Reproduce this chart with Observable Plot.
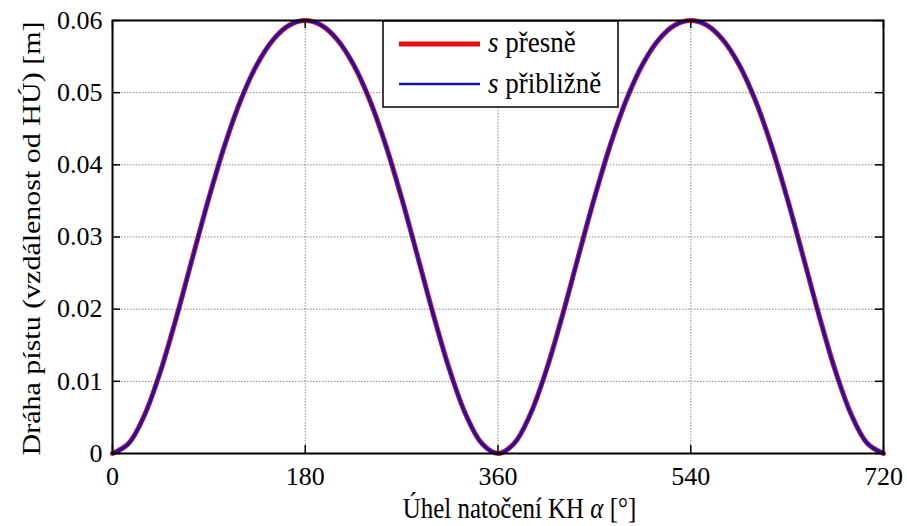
<!DOCTYPE html>
<html><head><meta charset="utf-8">
<script src="https://cdn.jsdelivr.net/npm/d3@7"></script>
<script src="https://cdn.jsdelivr.net/npm/@observablehq/plot@0.6"></script>
<style>html,body{margin:0;padding:0;background:#fff} svg{display:block}</style>
</head><body><div id="chart"></div>
<script>
const angles = [0,15,30,45,60,75,90,105,120,135,150,165,180,195,210,225,240,255,270,285,300,315,330,345,360,
  375,390,405,420,435,450,465,480,495,510,525,540,555,570,585,600,615,630,645,660,675,690,705,720];
const sExact = [0,0.00138,0.00537,0.01149,0.01905,0.02728,0.0354,0.0428,0.04905,0.05391,0.05733,0.05934,0.06,
  0.05934,0.05733,0.05391,0.04905,0.0428,0.0354,0.02728,0.01905,0.01149,0.00537,0.00138,0,
  0.00138,0.00537,0.01149,0.01905,0.02728,0.0354,0.0428,0.04905,0.05391,0.05733,0.05934,0.06,
  0.05934,0.05733,0.05391,0.04905,0.0428,0.0354,0.02728,0.01905,0.01149,0.00537,0.00138,0];
const sApprox = [0,0.00137,0.00535,0.01146,0.01902,0.02726,0.0354,0.04282,0.04908,0.05394,0.05735,0.05935,0.06,
  0.05935,0.05735,0.05394,0.04908,0.04282,0.0354,0.02726,0.01902,0.01146,0.00535,0.00137,0,
  0.00137,0.00535,0.01146,0.01902,0.02726,0.0354,0.04282,0.04908,0.05394,0.05735,0.05935,0.06,
  0.05935,0.05735,0.05394,0.04908,0.04282,0.0354,0.02726,0.01902,0.01146,0.00535,0.00137,0];
const xTicks = [0,180,360,540,720];
const xTickLabels = ["0","180","360","540","720"];
const yTicks = [0,0.01,0.02,0.03,0.04,0.05,0.06];
const yTickLabels = ["0","0.01","0.02","0.03","0.04","0.05","0.06"];
const seriesNames = ["přesně","přibližně"];
const seriesColors = ["#e60f14","#1414b4"];
const xLabel = "Úhel natočení KH α [°]";
const yLabel = "Dráha pístu (vzdálenost od HÚ) [m]";

const W=907,H=526, mL=112, mR=24, mT=20, mB=73;
const pw = W-mL-mR, ph = H-mT-mB;
const tk = 8;
const rows = angles.map((a,i)=>({a, exact:sExact[i], approx:sApprox[i]}));
const font = "'Liberation Serif', serif";
const grid = {stroke:"#8a8a8a", strokeOpacity:1, strokeWidth:1, strokeDasharray:"1.5,1.5"};

const chart = Plot.plot({
  width:W, height:H, marginLeft:mL, marginRight:mR, marginTop:mT, marginBottom:mB,
  style:{fontFamily:font, fontSize:"26px", color:"#000", background:"#fff"},
  x:{domain:[0,720]}, y:{domain:[0,0.06]},
  marks:[
    Plot.gridX(xTicks, grid),
    Plot.gridY(yTicks, grid),
    Plot.line(rows,{x:"a", y:"exact", stroke:seriesColors[0], strokeWidth:5, curve:"catmull-rom"}),
    Plot.line(rows,{x:"a", y:"approx", stroke:seriesColors[1], strokeWidth:3, curve:"catmull-rom"}),
    Plot.ruleX(xTicks,{x:d=>d, insetTop:ph-tk, stroke:"#000", strokeWidth:1.5}),
    Plot.ruleX(xTicks,{x:d=>d, insetBottom:ph-tk, stroke:"#000", strokeWidth:1.5}),
    Plot.ruleY(yTicks,{y:d=>d, insetRight:pw-tk, stroke:"#000", strokeWidth:1.5}),
    Plot.ruleY(yTicks,{y:d=>d, insetLeft:pw-tk, stroke:"#000", strokeWidth:1.5}),
    Plot.frame({stroke:"#000", strokeWidth:2}),
    Plot.axisX(xTicks,{tickSize:0, tickPadding:13, tickFormat:(d,i)=>xTickLabels[i], label:null, fontSize:26}),
    Plot.axisY(yTicks,{tickSize:0, tickPadding:10, tickFormat:(d,i)=>yTickLabels[i], label:null, fontSize:26})
  ]
});
document.getElementById("chart").appendChild(chart);

const svg = d3.select(chart);
const xs = chart.scale("x"), ys = chart.scale("y");

// x axis label with italic alpha
const xl = svg.append("text")
  .attr("transform", `translate(${xs.apply(360)+22},518) scale(0.86,1)`)
  .attr("text-anchor","middle").attr("font-size",29).attr("fill","#000");
const parts = xLabel.split("α");
xl.append("tspan").text(parts[0]);
xl.append("tspan").attr("font-style","italic").text("α");
xl.append("tspan").text(parts[1]);

// y axis label
svg.append("text")
  .attr("transform", `translate(40,${(ys.apply(0)+ys.apply(0.06))/2+2}) rotate(-90) scale(1,0.86)`)
  .attr("text-anchor","middle").attr("font-size",30).attr("fill","#000")
  .text(yLabel);

// legend
const lg = svg.append("g").attr("font-size",30);
lg.append("rect").attr("x",383).attr("y",21).attr("width",235).attr("height",86)
  .attr("fill","#fff").attr("stroke","#000").attr("stroke-width",1.5);
const lw = [5, 2.5];
const ly = [44, 84], tb = [52, 93];
seriesNames.forEach((n,i)=>{
  lg.append("line").attr("x1",399).attr("x2",480).attr("y1",ly[i]).attr("y2",ly[i])
    .attr("stroke",seriesColors[i]).attr("stroke-width",lw[i]);
  const t = lg.append("text").attr("transform",`translate(488,${tb[i]}) scale(0.9,1)`)
    .attr("text-anchor","start").attr("fill","#000");
  t.append("tspan").attr("font-style","italic").text("s");
  t.append("tspan").text(" " + n);
});
svg.selectAll("text").attr("font-family", font);
</script></body></html>
